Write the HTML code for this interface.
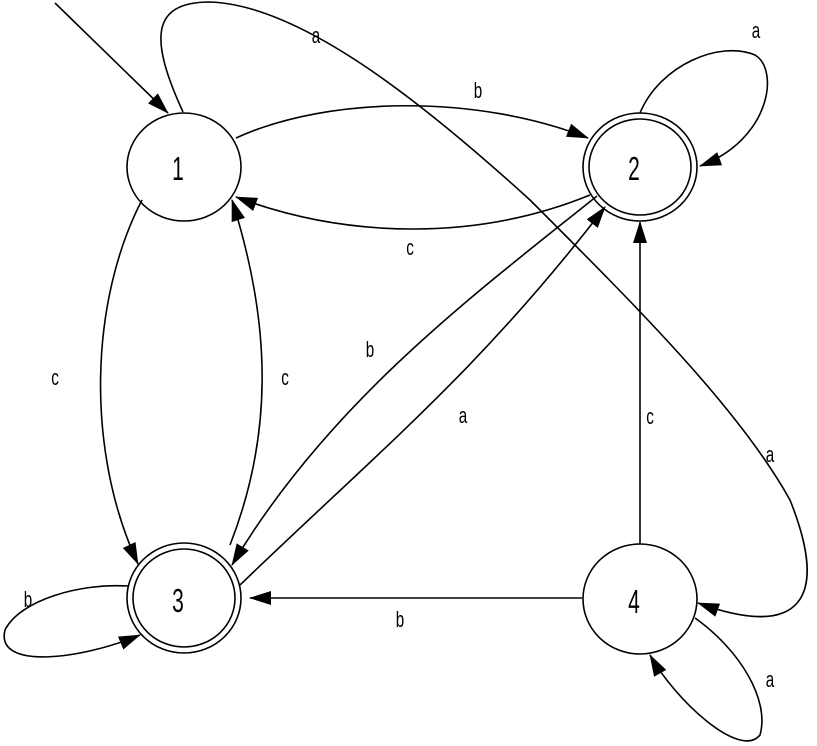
<!DOCTYPE html>
<html><head><meta charset="utf-8"><style>
html,body{margin:0;padding:0;background:#fff;}
svg{display:block;}
text{font-family:"Liberation Sans",sans-serif;fill:#000;}
</style></head><body>
<svg width="817" height="746" viewBox="0 0 817 746" xmlns="http://www.w3.org/2000/svg">
<defs>
<marker id="ar" viewBox="0 0 22 14" refX="21" refY="7" markerWidth="22" markerHeight="14" markerUnits="userSpaceOnUse" orient="auto">
<path d="M0,0 L22,7 L0,14 Z" fill="#000"/>
</marker>
</defs>
<g fill="none" stroke="#000" stroke-width="1.6">
<ellipse cx="184" cy="167" rx="57" ry="54"/>
<ellipse cx="640" cy="167" rx="57" ry="54"/>
<ellipse cx="640" cy="167" rx="51" ry="48"/>
<ellipse cx="184" cy="598" rx="57" ry="55"/>
<ellipse cx="184" cy="598" rx="51" ry="49"/>
<ellipse cx="640" cy="599" rx="57" ry="55"/>
<path d="M55,3 L168,113" marker-end="url(#ar)"/>
<path d="M183,112 C150,40 150,2 210,2 C300,5 420,100 530,200 C640,310 740,410 790,500 C830,600 800,640 698,603" marker-end="url(#ar)"/>
<path d="M236,138 C330,95 480,95 588,138" marker-end="url(#ar)"/>
<path d="M590,195 C480,240 350,240 236,197" marker-end="url(#ar)"/>
<path d="M640,113 C660,65 720,40 755,55 C780,70 770,140 700,166" marker-end="url(#ar)"/>
<path d="M142,200 C90,300 85,450 138,564" marker-end="url(#ar)"/>
<path d="M230,545 C275,430 270,320 232,200" marker-end="url(#ar)"/>
<path d="M597,196 C480,290 330,400 232,565" marker-end="url(#ar)"/>
<path d="M240,585 C380,450 480,370 605,207" marker-end="url(#ar)"/>
<path d="M640,544 L640,222" marker-end="url(#ar)"/>
<path d="M582,598 L250,598" marker-end="url(#ar)"/>
<path d="M128,586 C80,583 20,600 5,630 C-5,670 80,660 140,635" marker-end="url(#ar)"/>
<path d="M695,618 C740,650 770,700 760,735 C740,760 675,700 650,655" marker-end="url(#ar)"/>
</g>
<g font-size="19" text-anchor="middle">
<text transform="translate(316,43) scale(0.8,1.15)">a</text>
<text transform="translate(478,98) scale(0.8,1.15)">b</text>
<text transform="translate(410,255) scale(0.8,1.15)">c</text>
<text transform="translate(756,38) scale(0.8,1.15)">a</text>
<text transform="translate(55,385) scale(0.8,1.15)">c</text>
<text transform="translate(285,385) scale(0.8,1.15)">c</text>
<text transform="translate(370,357) scale(0.8,1.15)">b</text>
<text transform="translate(463,423) scale(0.8,1.15)">a</text>
<text transform="translate(650,424) scale(0.8,1.15)">c</text>
<text transform="translate(770,462) scale(0.8,1.15)">a</text>
<text transform="translate(400,627) scale(0.8,1.15)">b</text>
<text transform="translate(28,607) scale(0.8,1.15)">b</text>
<text transform="translate(770,687) scale(0.8,1.15)">a</text>
</g>
<g font-size="28" text-anchor="middle">
<text transform="translate(178,180) scale(0.75,1.2)">1</text>
<text transform="translate(634,180) scale(0.75,1.2)">2</text>
<text transform="translate(178,612) scale(0.75,1.2)">3</text>
<text transform="translate(634,613) scale(0.75,1.2)">4</text>
</g>
</svg>
</body></html>
